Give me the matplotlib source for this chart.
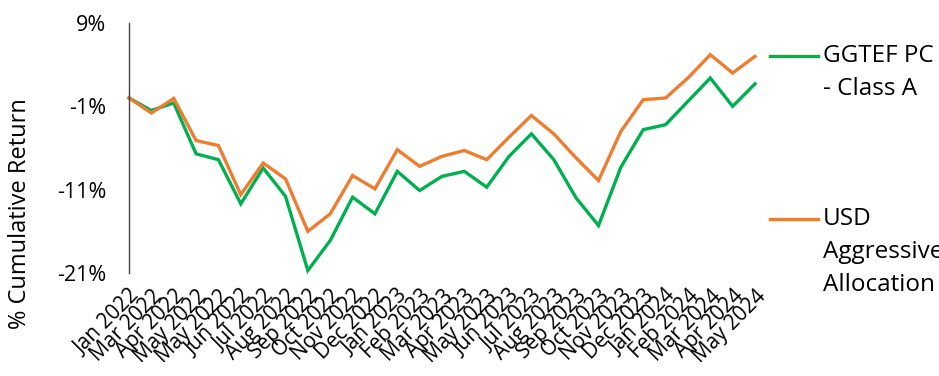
import matplotlib
matplotlib.use("Agg")
import matplotlib.pyplot as plt
from matplotlib.lines import Line2D

plt.rcParams['font.family'] = ['Open Sans', 'DejaVu Sans']

months = ["Jan 2022", "Mar 2022", "Apr 2022", "May 2022", "May 2022", "Jun 2022",
          "Jul 2022", "Aug 2022", "Sep 2022", "Oct 2022", "Nov 2022", "Dec 2022",
          "Jan 2023", "Feb 2023", "Mar 2023", "Apr 2023", "May 2023", "Jun 2023",
          "Jul 2023", "Aug 2023", "Sep 2023", "Oct 2023", "Nov 2023", "Dec 2023",
          "Jan 2024", "Feb 2024", "Mar 2024", "Apr 2024", "May 2024"]

ggtef = [0.0, -1.5, -0.6, -6.7, -7.4, -12.7, -8.4, -11.8, -20.7, -17.1, -11.9, -13.9,
         -8.8, -11.1, -9.4, -8.8, -10.7, -7.0, -4.3, -7.4, -12.0, -15.3, -8.3, -3.8,
         -3.2, -0.4, 2.4, -1.0, 1.7]
usd_aggr = [0.0, -1.8, -0.05, -5.1, -5.7, -11.6, -7.8, -9.7, -16.0, -13.9, -9.3, -10.9,
            -6.2, -8.2, -7.0, -6.3, -7.4, -4.7, -2.1, -4.3, -7.2, -9.9, -4.0, -0.2,
            0.0, 2.4, 5.2, 3.0, 5.0]

yticks = [9, -1, -11, -21]

green = "#00B050"
orange = "#ED7D31"

fig = plt.figure(figsize=(9.39, 3.76), dpi=100)
W, H = 939, 376
left, right, top, bottom = 129, 755, 23, 273
ax = fig.add_axes([left / W, 1 - bottom / H, (right - left) / W, (bottom - top) / H])

x = list(range(len(months)))
ax.plot(x, ggtef, color=green, lw=2.4, solid_joinstyle='miter', clip_on=False)
ax.plot(x, usd_aggr, color=orange, lw=2.4, solid_joinstyle='miter', clip_on=False)

ax.set_xlim(0, len(months) - 1)
ax.set_ylim(-21, 9)
ax.set_yticks(yticks)
ax.set_yticklabels([f"{v}%" for v in yticks], fontsize=15.5)
ax.set_xticks(x)
ax.set_xticklabels(months, rotation=45, ha='right', va='top', rotation_mode='anchor', fontsize=15)
ax.tick_params(axis='both', length=0)
ax.tick_params(axis='y', pad=16.5)
ax.tick_params(axis='x', pad=9)

for s in ['top', 'right', 'bottom']:
    ax.spines[s].set_visible(False)
ax.spines['left'].set_color('#404040')
ax.spines['left'].set_linewidth(1.0)

fig.text(20 / W, 1 - 214 / H, "% Cumulative Return", rotation=90, ha='center', va='center', fontsize=17)

# legend
fs = 17.5
fig.add_artist(Line2D([770 / W, 818 / W], [1 - 56 / H, 1 - 56 / H], color=green, lw=2.4))
fig.text(823 / W, 1 - 56 / H, "GGTEF PC", ha='left', va='center', fontsize=fs)
fig.text(823 / W, 1 - 89 / H, "- Class A", ha='left', va='center', fontsize=fs)
fig.add_artist(Line2D([770 / W, 818 / W], [1 - 219 / H, 1 - 219 / H], color=orange, lw=2.4))
fig.text(823 / W, 1 - 219 / H, "USD", ha='left', va='center', fontsize=fs)
fig.text(823 / W, 1 - 252 / H, "Aggressive", ha='left', va='center', fontsize=fs)
fig.text(823 / W, 1 - 285 / H, "Allocation", ha='left', va='center', fontsize=fs)

fig.savefig("out.png", dpi=100)
